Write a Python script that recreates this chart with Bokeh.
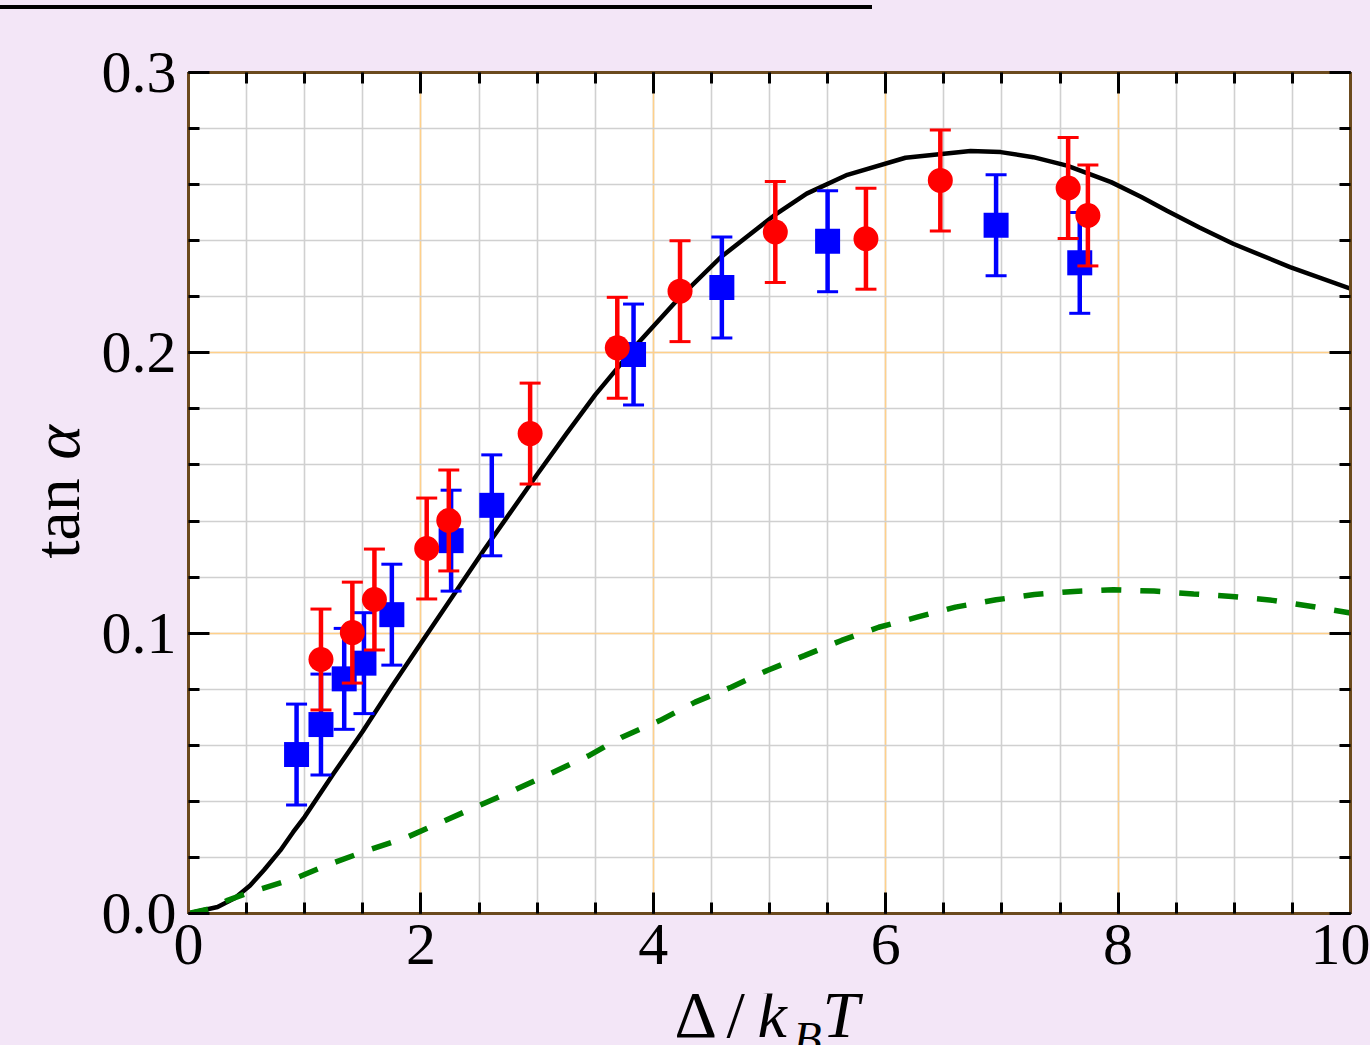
import math
from bokeh.plotting import figure
from bokeh.models import (FixedTicker, Div, LinearAxis, CustomJSTickFormatter,
                          Range1d, NumeralTickFormatter, Grid)
from bokeh.core.properties import value
from bokeh.layouts import column, row
from bokeh.embed import file_html
from bokeh.resources import INLINE

# ---------------- data ----------------
x_ticks = [0, 2, 4, 6, 8, 10]
y_ticks = [0.0, 0.1, 0.2, 0.3]

blue_x = [0.93, 1.14, 1.34, 1.51, 1.75, 2.26, 2.61, 3.83, 4.59, 5.50, 6.95, 7.67]
blue_y = [0.0567, 0.0674, 0.0837, 0.0893, 0.1066, 0.1330, 0.1456, 0.1994, 0.2233, 0.2398, 0.2455, 0.2321]
blue_err = [0.018] * 12

red_x = [1.14, 1.41, 1.60, 2.05, 2.24, 2.94, 3.69, 4.23, 5.05, 5.83, 6.47, 7.57, 7.74]
red_y = [0.0906, 0.1002, 0.1120, 0.1302, 0.1402, 0.1712, 0.2018, 0.2220, 0.2431, 0.2407, 0.2615, 0.2588, 0.2490]
red_err = [0.018] * 13

theory_x = [0, 0.25, 0.4, 0.53, 0.65, 0.79, 0.9, 1.0, 1.25, 1.5, 1.75, 2.0, 2.54, 3.0, 3.25, 3.5,
            3.7, 3.85, 4.23, 4.58, 5.04, 5.32, 5.67, 6.17, 6.73, 6.99, 7.27, 7.56, 7.94, 8.2,
            8.42, 8.7, 8.99, 9.48, 10]
theory_y = [0, 0.0023, 0.0055, 0.010, 0.0155, 0.0225, 0.0290, 0.0345, 0.050, 0.065, 0.081,
            0.0964, 0.1295, 0.1566, 0.171, 0.185, 0.195, 0.2026, 0.2199, 0.2341, 0.249, 0.2568,
            0.2635, 0.2696, 0.2720, 0.2716, 0.2698, 0.2668, 0.2609, 0.2556, 0.2507, 0.2447,
            0.2389, 0.2306, 0.2229]

dash_x = [0, 0.19, 0.33, 0.53, 0.91, 1.22, 1.54, 1.88, 2.50, 2.81, 3.13, 3.45, 3.73, 4.06, 4.36,
          4.67, 4.98, 5.30, 5.62, 5.94, 6.27, 6.60, 6.95, 7.28, 7.62, 7.96, 8.31, 8.65, 8.98, 9.33,
          9.67, 10]
dash_y = [0, 0.0017, 0.0046, 0.0076, 0.0124, 0.0177, 0.0225, 0.0272, 0.0385, 0.0441, 0.0502,
          0.0564, 0.0629, 0.0689, 0.0754, 0.0807, 0.0867, 0.092, 0.0974, 0.1021, 0.1057, 0.1093,
          0.1119, 0.1138, 0.1149, 0.1155, 0.115, 0.114, 0.1131, 0.1117, 0.1095, 0.1072]

x_title = ["Δ", "/", "k", "B", "T"]
y_title = ["tan", "α"]

# ---------------- style ----------------
BG = "#f3e6f7"
FONT = "Liberation Serif"
SPINE = "#6b4a1e"

x_minor = [i * 0.5 for i in range(21)]
y_minor = [round(i * 0.02, 2) for i in range(16)]

YLAB_W = 88
MAIN_H = 984          # page y 9 .. 993
XLAB_H = 52           # page y 993 .. 1045

p = figure(width=1370 - YLAB_W, height=MAIN_H, x_range=Range1d(0, 10), y_range=Range1d(0, 0.3),
           x_axis_type=None, y_axis_type=None,
           output_backend="svg", toolbar_location=None,
           background_fill_color="white", border_fill_color=BG,
           min_border_left=188 - YLAB_W, min_border_right=20, min_border_top=63, min_border_bottom=80)
p.outline_line_color = None

xbot = LinearAxis()
xtop = LinearAxis()
yleft = LinearAxis()
yright = LinearAxis()
p.add_layout(xbot, "below")
p.add_layout(xtop, "above")
p.add_layout(yleft, "left")
p.add_layout(yright, "right")

blank = CustomJSTickFormatter(code="return ''")
for ax, is_x in [(xbot, True), (xtop, True), (yleft, False), (yright, False)]:
    ax.ticker = FixedTicker(ticks=x_ticks if is_x else y_ticks,
                            minor_ticks=x_minor if is_x else y_minor)
    ax.axis_line_color = SPINE
    ax.axis_line_width = 3
    ax.major_tick_line_color = "black"
    ax.minor_tick_line_color = "black"
    ax.major_tick_line_width = 3
    ax.minor_tick_line_width = 3
    ax.major_tick_in = 21
    ax.major_tick_out = 0
    ax.minor_tick_in = 11
    ax.minor_tick_out = 0
    ax.major_label_text_font = FONT
    ax.major_label_text_font_size = "60px"
    ax.major_label_text_color = "black"

xbot.formatter = NumeralTickFormatter(format="0")
yleft.formatter = NumeralTickFormatter(format="0.0")
xbot.major_label_standoff = 11
yleft.major_label_standoff = 12
xtop.formatter = blank
yright.formatter = blank

xgrid = Grid(dimension=0, ticker=FixedTicker(ticks=x_ticks, minor_ticks=x_minor))
ygrid = Grid(dimension=1, ticker=FixedTicker(ticks=y_ticks, minor_ticks=y_minor))
for g in (xgrid, ygrid):
    g.grid_line_color = "#ffd08a"
    g.grid_line_width = 1.5
    g.minor_grid_line_color = "#d0d0d0"
    g.minor_grid_line_width = 1.6
    p.add_layout(g, "center")

# curves
p.line(theory_x, theory_y, line_color="black", line_width=4.5)
p.line(dash_x, dash_y, line_color="green", line_width=5.5, line_dash="20 19")

# blue series
b_lo = [y - e for y, e in zip(blue_y, blue_err)]
b_hi = [y + e for y, e in zip(blue_y, blue_err)]
p.segment(blue_x, b_lo, blue_x, b_hi, line_color="blue", line_width=4.5)
p.scatter(blue_x, b_lo, marker="dash", size=21, line_color="blue", line_width=3)
p.scatter(blue_x, b_hi, marker="dash", size=21, line_color="blue", line_width=3)
p.scatter(blue_x, blue_y, marker="square", size=25, fill_color="blue", line_color="blue", line_width=0)

# red series
r_lo = [y - e for y, e in zip(red_y, red_err)]
r_hi = [y + e for y, e in zip(red_y, red_err)]
p.segment(red_x, r_lo, red_x, r_hi, line_color="red", line_width=4.5)
p.scatter(red_x, r_lo, marker="dash", size=21, line_color="red", line_width=3)
p.scatter(red_x, r_hi, marker="dash", size=21, line_color="red", line_width=3)
p.scatter(red_x, red_y, marker="circle", size=25, fill_color="red", line_color="red", line_width=0)


def text_panel(w, h):
    f = figure(width=w, height=h, x_range=Range1d(0, w), y_range=Range1d(0, h),
               x_axis_type=None, y_axis_type=None, output_backend="svg", toolbar_location=None,
               min_border=0, background_fill_color=BG, border_fill_color=BG)
    f.outline_line_color = None
    return f


SHIFT = 23  # empirical offset of the text anchor for 66px text

# y-axis title panel (left strip), coordinates: x = page x, y = 993 - page y
ylab = text_panel(YLAB_W, MAIN_H)
common = dict(text_font=value(FONT), text_font_size=value("66px"), text_color="black",
              text_baseline="alphabetic", text_align="left", angle=math.pi / 2)
ylab.text(x=[79 - SHIFT], y=[993 - 578], text=[y_title[0]], **common)
ylab.text(x=[79 - SHIFT], y=[993 - 462], text=[y_title[1]], text_font_style="italic", **common)

# x-axis title panel (bottom strip), coordinates: x = page x, y = 1045 - page y
xlab = text_panel(1370, XLAB_H)
cx = dict(text_font=value(FONT), text_color="black", text_baseline="alphabetic", text_align="left",
          text_font_size=value("66px"))
base = 1045 - 1039 + SHIFT + 2
xlab.text(x=[674], y=[base], text=[x_title[0]], **cx)
xlab.text(x=[726], y=[base], text=[x_title[1]], **cx)
xlab.text(x=[757], y=[base], text=[x_title[2]], text_font_style="italic", **cx)
xlab.text(x=[822], y=[base], text=[x_title[4]], text_font_style="italic", **cx)
cx["text_font_size"] = value("46px")
xlab.text(x=[793], y=[1045 - 1056 + 16 + 2], text=[x_title[3]], text_font_style="italic", **cx)

line_div = Div(text="", width=872, height=4, margin=(5, 0, 0, 0),
               styles={"background-color": "black"})
layout = column(line_div, row(ylab, p, spacing=0), xlab, spacing=0)

html = file_html(layout, INLINE, title="tan alpha")
html = html.replace("</head>",
                    "<style>html, body { background-color: %s; }</style></head>" % BG, 1)
open("out.html", "w").write(html)
